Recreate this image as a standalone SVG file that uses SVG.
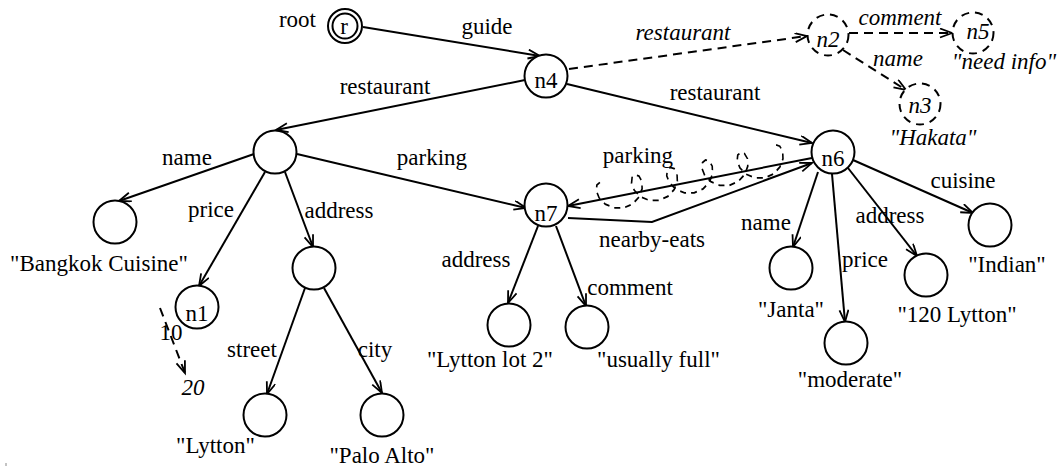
<svg xmlns="http://www.w3.org/2000/svg" width="1060" height="469" viewBox="0 0 1060 469">
<defs>
<marker id="ah" markerUnits="userSpaceOnUse" markerWidth="16" markerHeight="12" refX="13" refY="5" orient="auto">
<path d="M1,0.5 L13,5 L1,9.5" fill="none" stroke="#000" stroke-width="1.8"/>
</marker>
<style>
text{font-family:"Liberation Serif","Times New Roman",Times,"DejaVu Serif",serif;font-size:23px;fill:#000}
.it{font-style:italic}
.m{text-anchor:middle}
.e{text-anchor:end}
.n{fill:#fff;stroke:#000;stroke-width:2}
.d{fill:#fff;stroke:#000;stroke-width:2;stroke-dasharray:8,6}
.c line,.c polyline{stroke:#000;stroke-width:2;fill:none;marker-end:url(#ah)}
.c .dl{stroke-dasharray:9,6}
</style>
</defs>
<rect width="1060" height="469" fill="#fff"/>
<g id="connectors" class="c">
<line x1="363" y1="27" x2="540" y2="56"/>
<line x1="525" y1="80" x2="276" y2="130"/>
<line x1="567" y1="84" x2="812" y2="143"/>
<line x1="254" y1="154" x2="119" y2="201"/>
<line x1="265" y1="172" x2="199" y2="286"/>
<line x1="285" y1="172" x2="313" y2="247"/>
<line x1="297" y1="154" x2="526" y2="208"/>
<line x1="305" y1="288" x2="267" y2="394"/>
<line x1="324" y1="288" x2="382" y2="393"/>
<line x1="538" y1="226" x2="508" y2="303"/>
<line x1="556" y1="226" x2="586" y2="306"/>
<line x1="812" y1="158" x2="568" y2="206"/>
<polyline points="568,218 652,222 812,163"/>
<line x1="818" y1="172" x2="793" y2="247"/>
<line x1="832" y1="174" x2="845" y2="322"/>
<line x1="848" y1="168" x2="917" y2="256"/>
<line x1="853" y1="160" x2="973" y2="213"/>
<line class="dl" x1="569" y1="69" x2="807" y2="36"/>
<line class="dl" x1="849" y1="33" x2="952" y2="33"/>
<line class="dl" x1="843" y1="50" x2="906" y2="90"/>
<line class="dl" x1="160" y1="308" x2="185" y2="373"/>
<polyline transform="translate(603,197) rotate(-12) scale(1,-1.15)" style="marker-end:none;stroke-width:1.6;stroke-dasharray:6,5" points="0,13 -3.5,11.26 -5.26,6.5 -4,0 0.74,-6.5 8.5,-11.26 18,-13 27.5,-11.26 35.26,-6.5 40,0 41.26,6.5 39.5,11.26 36,13 32.5,11.26 30.74,6.5 32,0 36.74,-6.5 44.5,-11.26 54,-13 63.5,-11.26 71.26,-6.5 76,0 77.26,6.5 75.5,11.26 72,13 68.5,11.26 66.74,6.5 68,0 72.74,-6.5 80.5,-11.26 90,-13 99.5,-11.26 107.26,-6.5 112,0 113.26,6.5 111.5,11.26 108,13 104.5,11.26 102.74,6.5 104,0 108.74,-6.5 116.5,-11.26 126,-13 135.5,-11.26 143.26,-6.5 148,0 149.26,6.5 147.5,11.26 144,13 140.5,11.26 138.74,6.5 140,0 144.74,-6.5 152.5,-11.26 162,-13 171.5,-11.26 179.26,-6.5 184,0 185.26,6.5 183.5,11.26 180,13"/>
</g>
<g id="labels">
<text x="316" y="27" class="e">root</text>
<text x="487" y="34" class="m">guide</text>
<text x="385" y="94" class="m">restaurant</text>
<text x="715" y="100" class="m">restaurant</text>
<text x="683" y="40" class="m it">restaurant</text>
<text x="900" y="25" class="m it">comment</text>
<text x="898" y="66" class="m it">name</text>
<text x="187" y="165" class="m">name</text>
<text x="211" y="217" class="m">price</text>
<text x="339" y="218" class="m">address</text>
<text x="432" y="165" class="m">parking</text>
<text x="252" y="357" class="m">street</text>
<text x="375" y="357" class="m">city</text>
<text x="171" y="340" class="m">10</text>
<text x="476" y="267" class="m">address</text>
<text x="630" y="295" class="m">comment</text>
<text x="652" y="247" class="m">nearby-eats</text>
<text x="638" y="163" class="m">parking</text>
<text x="766" y="230" class="m">name</text>
<text x="865" y="267" class="m">price</text>
<text x="890" y="223" class="m">address</text>
<text x="963" y="188" class="m">cuisine</text>
</g>
<g id="r"><circle cx="345" cy="26" r="17" class="n"/><circle cx="345" cy="26" r="12.5" fill="none" stroke="#000" stroke-width="2"/><text x="344" y="34" class="m">r</text></g>
<g id="n4"><circle cx="546" cy="76" r="21.5" class="n"/><text x="546" y="88" class="m">n4</text></g>
<g id="restaurant1"><circle cx="275" cy="152" r="21.5" class="n"/></g>
<g id="bangkok"><circle cx="115" cy="222" r="21.5" class="n"/><text x="99" y="271" class="m">"Bangkok Cuisine"</text></g>
<g id="n1"><circle cx="197" cy="307" r="21.5" class="n"/><text x="197" y="321" class="m">n1</text></g>
<g id="v20"><text x="193" y="395" class="m it">20</text></g>
<g id="address1"><circle cx="314" cy="268" r="21.5" class="n"/></g>
<g id="lytton"><circle cx="265" cy="415" r="21.5" class="n"/><text x="176" y="453">"Lytton"</text></g>
<g id="paloalto"><circle cx="382" cy="415" r="21.5" class="n"/><text x="382" y="463" class="m">"Palo Alto"</text></g>
<g id="n7"><circle cx="546" cy="205" r="21.5" class="n"/><text x="546" y="221" class="m">n7</text></g>
<g id="lot2"><circle cx="509" cy="325" r="21.5" class="n"/><text x="553" y="367" class="e">"Lytton lot 2"</text></g>
<g id="full"><circle cx="587" cy="327" r="21.5" class="n"/><text x="597" y="367">"usually full"</text></g>
<g id="n6"><circle cx="833" cy="152" r="21.5" class="n"/><text x="833" y="166" class="m">n6</text></g>
<g id="janta"><circle cx="791" cy="268" r="21.5" class="n"/><text x="791" y="317" class="m">"Janta"</text></g>
<g id="moderate"><circle cx="846" cy="343" r="21.5" class="n"/><text x="850" y="387" class="m">"moderate"</text></g>
<g id="lytton120"><circle cx="926" cy="275" r="21.5" class="n"/><text x="957" y="322" class="m">"120 Lytton"</text></g>
<g id="indian"><circle cx="990" cy="225" r="21.5" class="n"/><text x="1007" y="272" class="m">"Indian"</text></g>
<g id="n2"><circle cx="828" cy="35" r="20.5" class="d"/><text x="828" y="47" class="m it">n2</text></g>
<g id="n5"><circle cx="973" cy="33" r="20.5" class="d"/><text x="978" y="39" class="m it">n5</text><text x="1004" y="69" class="m it">"need info"</text></g>
<g id="n3"><circle cx="920" cy="104" r="20.5" class="d"/><text x="920" y="113" class="m it">n3</text><text x="933" y="145" class="m it">"Hakata"</text></g>
<line x1="6" y1="463" x2="6" y2="466" stroke="#888" stroke-width="1"/>
</svg>
